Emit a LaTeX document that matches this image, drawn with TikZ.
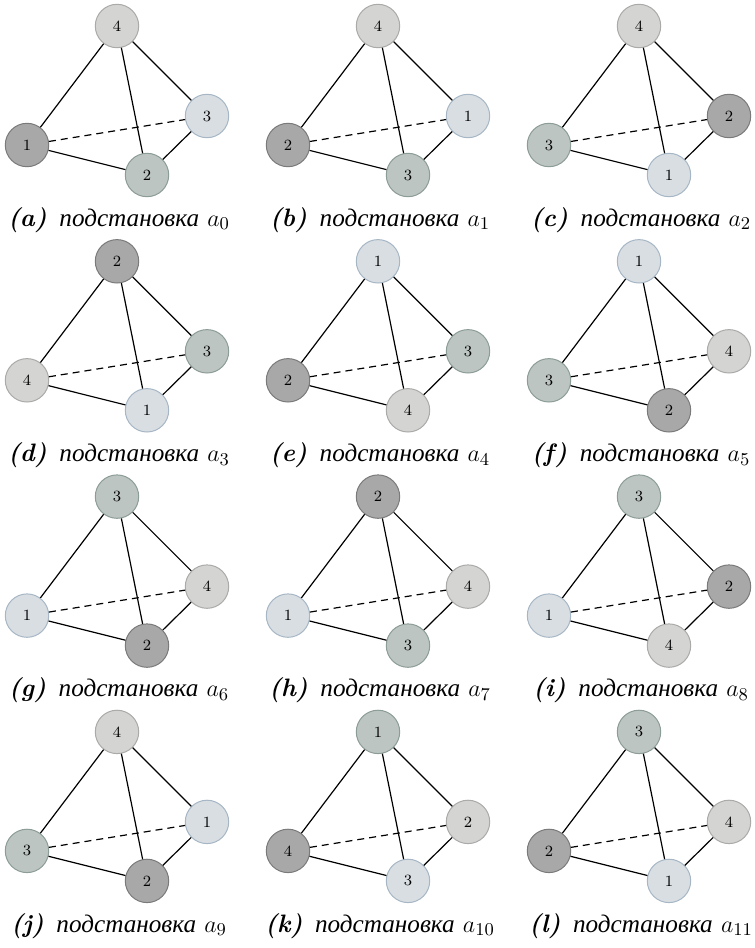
\documentclass[tikz,border=0pt]{standalone}
\usepackage{fontspec}
\newfontfamily\cyrfont{Liberation Serif}
\usepackage{xcolor}
\definecolor{dkfill}{RGB}{168,168,168}
\definecolor{dkline}{RGB}{122,122,122}
\definecolor{grfill}{RGB}{188,197,194}
\definecolor{grline}{RGB}{140,156,150}
\definecolor{blfill}{RGB}{217,222,227}
\definecolor{blline}{RGB}{166,182,197}
\definecolor{ltfill}{RGB}{212,212,210}
\definecolor{ltline}{RGB}{170,170,168}

\begin{document}
\begin{tikzpicture}[
    x=0.5pt, y=-0.5pt,
    vert/.style={circle, line width=0.5pt, minimum size=21.7pt, inner sep=0pt, font=\fontsize{7.8}{9}\selectfont},
    dk/.style={vert, fill=dkfill, draw=dkline},
    gr/.style={vert, fill=grfill, draw=grline},
    bl/.style={vert, fill=blfill, draw=blline},
    lt/.style={vert, fill=ltfill, draw=ltline},
    edge/.style={semithick},
    hidden/.style={semithick, dash pattern=on 3.5pt off 2.5pt},
    caption/.style={font=\fontsize{12.6}{15}\selectfont}
]
\useasboundingbox (0,0) rectangle (755,948);

% Panels: name/column/row/index/top/left/bottom/right
\foreach \n/\cx/\cy/\k/\tl/\ts/\ll/\ls/\bl/\bs/\rl/\rs in {
    a/0/0/0/4/lt/1/dk/2/gr/3/bl,
    b/1/0/1/4/lt/2/dk/3/gr/1/bl,
    c/2/0/2/4/lt/3/gr/1/bl/2/dk,
    d/0/1/3/2/dk/4/lt/1/bl/3/gr,
    e/1/1/4/1/bl/2/dk/4/lt/3/gr,
    f/2/1/5/1/bl/3/gr/2/dk/4/lt,
    g/0/2/6/3/gr/1/bl/2/dk/4/lt,
    h/1/2/7/2/dk/1/bl/3/gr/4/lt,
    i/2/2/8/3/gr/1/bl/4/lt/2/dk,
    j/0/3/9/4/lt/3/gr/2/dk/1/bl,
    k/1/3/10/1/gr/4/dk/3/bl/2/lt,
    l/2/3/11/3/gr/2/dk/1/bl/4/lt}{
  \begin{scope}[shift={(\cx*261,\cy*235.3)}]
    % Vertices
    \node[\ts] (\n-t) at (117,26) {\tl};
    \node[\ls] (\n-l) at (27,145) {\ll};
    \node[\bs] (\n-b) at (147,175) {\bl};
    \node[\rs] (\n-r) at (207,116) {\rl};
    % Edges
    \draw[edge] (\n-t) -- (\n-l);
    \draw[edge] (\n-t) -- (\n-b);
    \draw[edge] (\n-t) -- (\n-r);
    \draw[edge] (\n-l) -- (\n-b);
    \draw[edge] (\n-b) -- (\n-r);
    \draw[hidden] (\n-l) -- (\n-r);
    % Caption
    \node[caption] (\n-cap) at (119,220) {\textbf{\textit{(\n)}}\enspace{\cyrfont\itshape подстановка}\ $a_{\k}$};
  \end{scope}
}

\end{tikzpicture}
\end{document}
